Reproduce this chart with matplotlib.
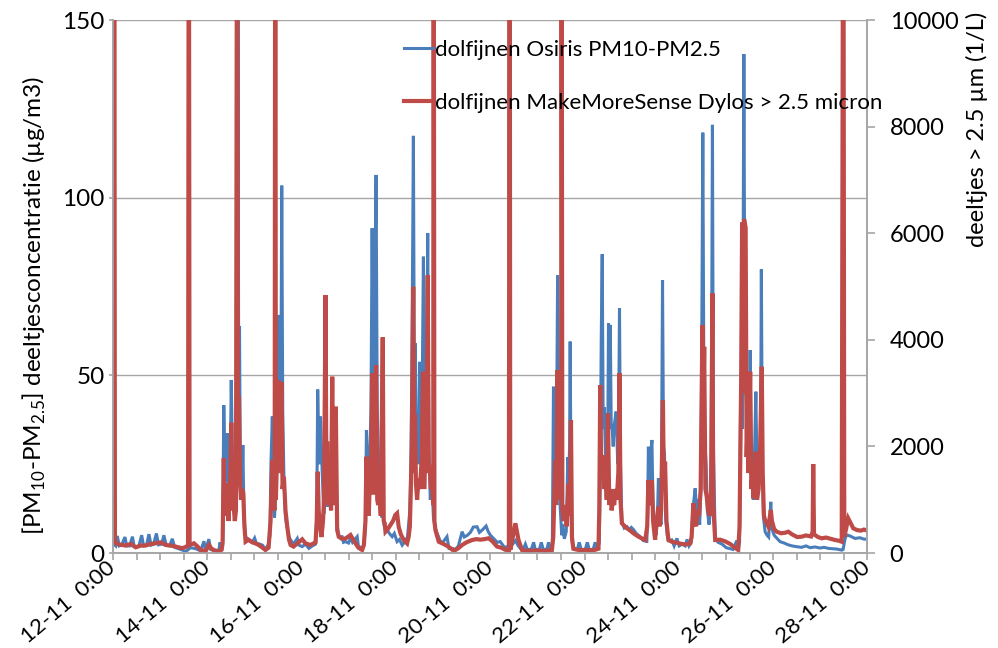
import matplotlib
matplotlib.use("Agg")
import matplotlib.pyplot as plt
from matplotlib.ticker import MultipleLocator

plt.rcParams['font.family'] = ['Lato', 'DejaVu Sans']

# time in hours after 12-11 0:00
osiris_hours = [
    0.4, 1.4, 2.2, 3.2, 4.4, 6.1, 7.0, 8.5, 9.9, 10.8, 13.1, 14.6, 15.6, 17.1, 18.3, 19.4,
    20.7, 22.1, 23.2, 24.8, 25.9, 27.1, 28.8, 30.2, 31.4, 33.4, 35.4, 37.0, 39.5, 42.1,
    44.6, 46.3, 47.1, 48.8, 49.7, 51.7, 53.9, 54.5, 55.3, 55.8, 56.4, 57.1, 57.6, 58.2,
    58.8, 59.6, 60.2, 60.9, 61.4, 62.0, 62.6, 63.3, 63.6, 64.0, 64.4, 64.9, 65.7, 66.1,
    66.7, 67.5, 69.0, 70.9, 72.1, 73.1, 74.2, 76.1, 77.6, 79.2, 79.9, 80.4, 81.1, 81.7,
    82.2, 82.7, 83.5, 84.4, 85.0, 85.5, 85.9, 86.4, 87.0, 87.8, 88.7, 89.6, 90.4, 91.9,
    93.8, 94.7, 96.3, 98.0, 99.7, 101.5, 103.1, 103.7, 104.2, 104.9, 105.6, 106.5, 107.3,
    107.9, 108.2, 108.8, 109.4, 110.2, 111.0, 111.6, 112.1, 112.7, 113.4, 114.1, 114.9,
    116.6, 117.3, 118.3, 119.9, 120.9, 121.9, 124.3, 124.9, 126.8, 127.7, 128.5, 129.0,
    129.6, 130.2, 130.8, 131.3, 131.9, 132.5, 133.1, 133.9, 134.5, 135.0, 135.5, 136.1,
    136.9, 137.3, 137.9, 138.7, 139.5, 140.7, 142.1, 143.2, 144.6, 145.8, 147.2, 148.3,
    149.9, 151.1, 151.6, 152.1, 152.9, 153.4, 153.9, 154.4, 154.8, 155.5, 156.1, 156.7,
    157.2, 158.0, 158.6, 159.3, 160.2, 160.8, 161.5, 162.3, 163.1, 164.1, 165.0, 166.6,
    167.9, 170.0, 171.0, 172.6, 174.3, 175.8, 177.7, 178.8, 180.4, 181.9, 183.4, 185.3,
    186.5, 188.0, 189.9, 191.0, 192.1, 193.7, 195.6, 197.1, 198.7, 199.7, 201.2, 202.7,
    204.8, 206.3, 207.8, 208.8, 209.9, 210.9, 212.9, 214.1, 214.9, 217.0, 218.0, 219.0,
    220.8, 221.7, 222.6, 223.6, 224.2, 224.8, 225.1, 225.6, 226.3, 226.9, 227.4, 227.9,
    228.4, 228.9, 229.7, 230.7, 231.5, 231.9, 232.4, 232.7, 233.2, 233.7, 234.8, 236.3,
    237.3, 238.3, 240.4, 241.4, 242.4, 244.4, 245.4, 246.5, 247.5, 248.0, 248.5, 249.0,
    249.5, 250.0, 250.8, 251.3, 251.8, 252.2, 252.7, 253.1, 253.6, 253.9, 254.6, 255.1,
    256.1, 256.9, 257.4, 257.8, 258.3, 259.0, 260.2, 261.6, 262.7, 263.8, 264.9, 266.3,
    268.3, 269.9, 271.7, 272.1, 272.5, 273.2, 273.7, 274.3, 274.8, 275.5, 276.5, 277.2,
    277.6, 278.2, 279.0, 279.7, 280.2, 280.7, 281.3, 282.1, 282.7, 284.4, 285.6, 287.0,
    288.2, 289.7, 291.2, 292.2, 293.2, 294.3, 295.0, 295.5, 296.3, 297.1, 297.8, 298.6,
    299.3, 300.2, 300.8, 301.4, 301.9, 302.5, 303.4, 304.4, 305.1, 305.6, 306.5, 308.0,
    310.0, 312.1, 314.1, 315.6, 317.5, 318.2, 318.9, 319.4, 319.9, 320.4, 321.1, 321.6,
    322.2, 322.7, 323.4, 323.9, 324.3, 324.8, 325.5, 325.9, 326.6, 327.2, 327.7, 328.5,
    329.1, 329.6, 330.0, 330.5, 331.1, 331.9, 332.9, 333.7, 334.4, 334.8, 335.3, 336.5,
    337.8, 339.5, 341.6, 343.7, 345.6, 347.7, 350.5, 352.7, 354.8, 357.3, 359.9, 361.9,
    364.1, 366.5, 368.5, 370.9, 371.6, 372.6, 373.4, 375.1, 377.7, 380.2, 382.2, 384.0,
]
osiris_pm = [
    2.5, 2.0, 4.8, 2.0, 2.2, 4.5, 2.0, 2.0, 4.6, 1.8, 1.8, 5.0, 2.0, 2.2, 5.3, 2.2,
    2.5, 5.5, 2.3, 2.5, 5.0, 2.2, 2.0, 4.0, 1.6, 1.2, 0.8, 0.4, 1.5, 1.2,
    0.6, 3.3, 0.8, 3.9, 1.0, 0.6, 0.8, 3.0, 1.0, 2.0, 41.6, 20, 30, 33.7,
    12, 20, 48.7, 22, 18, 25.7, 15, 30, 160, 40, 63.9, 15, 18, 30.4,
    10, 4.6, 3.5, 3.0, 4.2, 2.5, 2.6, 2.2, 1.0, 2.5, 5, 25, 38.4, 20,
    10, 15, 30, 67, 35, 50, 103.4, 40, 21.5, 10, 7, 4.5, 3.7, 2.5,
    4.1, 2.2, 1.8, 2.5, 1.3, 2.0, 2.5, 10, 46, 25, 38.4, 22.4, 11,
    15, 36, 20, 13, 18, 25, 49, 20, 14, 34, 8, 4.6,
    4.6, 3.0, 3.2, 2.8, 4.2, 3.0, 4.6, 2.0, 1.2, 2.5, 8, 34.6,
    22, 21.5, 30, 40, 91.4, 45, 60, 106.4, 40, 29.5, 20, 15,
    10, 12, 8, 6.5, 6.5, 5.5, 4.6, 5.5, 3.2, 3.8, 2.2, 3.0,
    4.5, 12, 25, 50, 117.4, 45, 59, 30, 35.5, 25, 53.8, 25,
    35, 83.4, 30, 25, 90, 30, 15, 20, 10, 7, 5.5, 3.3,
    3.0, 4.6, 1.3, 1.3, 1.0, 2.0, 6.0, 4.5, 5.0, 5.8, 7.3, 7.4,
    5.8, 6.5, 7.6, 6.0, 5.0, 4.1, 3.0, 3.2, 2.0, 1.5, 2.0, 2.0,
    3.5, 2.0, 1.0, 1.0, 2.5, 1.0, 1.0, 3.0, 1.0, 1.0, 3.0, 1.0,
    1.0, 3.0, 1.0, 2.0, 46.8, 20, 30, 20, 78.1, 25, 15, 10,
    5, 8, 4, 6, 27, 20, 30, 59.5, 10, 3, 1.0, 1.0,
    3.0, 1.0, 1.0, 3.0, 1.0, 1.0, 3.0, 1.2, 3.0, 20, 60, 84.1,
    35, 41, 25, 35, 30, 64.6, 40, 64.2, 35, 36, 30, 36,
    39.8, 25, 40, 68.9, 25, 9, 7, 7.4, 6.5, 7.2, 6.6, 5.5,
    4.6, 3.5, 3.3, 10, 29.9, 20, 28, 31.8, 15, 8, 5, 12,
    21, 10, 8, 76.8, 30, 28, 10, 5, 3.5, 3.7, 2.0, 4.1,
    2.0, 2.5, 2.0, 3.8, 2.0, 3.0, 10, 14, 18.2, 12, 15, 8,
    20, 118.3, 40, 30, 24.8, 12, 8, 15, 120.5, 30, 4, 3.0,
    2.5, 1.5, 1.2, 1.0, 3.5, 1.0, 3.0, 40, 50, 35, 140.4, 60,
    45, 40, 39.8, 30, 57.1, 25, 20, 15, 30, 45.4, 25, 29,
    20, 30, 79.8, 25, 10, 6, 5, 4.5, 10, 14.4, 7, 5,
    4.2, 3.2, 2.8, 2.3, 2.0, 1.8, 1.6, 2.0, 1.5, 1.7, 1.4, 1.6,
    1.3, 1.2, 1.1, 0.8, 1.0, 4.0, 5.1, 4.8, 4.1, 4.3, 3.9, 3.9,
]

dylos_hours = [
    0.4, 0.6, 1.0, 2.9, 6.5, 9.0, 11.6, 14.1, 16.6, 19.2, 21.7, 24.3, 26.8, 29.4, 31.9,
    35.3, 37.5, 38.2, 38.6, 39.0, 41.2, 43.1, 44.6, 47.1, 48.8, 50.2, 51.7, 53.9, 55.3,
    55.8, 56.4, 56.9, 57.6, 58.2, 58.8, 59.6, 60.2, 60.9, 61.4, 62.0, 62.6, 63.2, 63.6,
    64.1, 64.7, 65.2, 65.7, 66.3, 66.9, 67.5, 69.0, 70.9, 72.6, 74.2, 76.1, 77.6, 79.2,
    80.2, 81.1, 81.7, 82.3, 82.6, 82.9, 83.5, 84.3, 84.8, 85.3, 85.8, 86.3, 87.0, 87.8,
    88.7, 89.6, 90.4, 91.9, 93.8, 96.3, 98.0, 100.5, 103.1, 103.7, 104.2, 104.7, 105.4,
    106.1, 106.9, 107.4, 108.2, 108.6, 109.0, 109.6, 110.2, 111.0, 111.6, 112.1, 112.7,
    113.4, 114.1, 114.9, 116.3, 118.3, 120.9, 123.4, 124.9, 126.8, 127.7, 128.5, 129.0,
    129.5, 130.2, 130.8, 131.3, 131.9, 132.5, 133.1, 133.9, 134.5, 135.0, 135.6, 136.3,
    137.3, 137.8, 138.3, 138.7, 139.9, 141.2, 142.5, 143.7, 144.6, 145.4, 146.5, 148.0,
    149.7, 150.5, 151.1, 151.6, 152.1, 152.8, 153.3, 153.7, 154.2, 154.8, 155.5, 156.1,
    156.7, 157.2, 157.8, 158.4, 159.0, 159.5, 160.2, 160.7, 161.2, 161.8, 162.3, 163.0,
    163.2, 163.6, 164.1, 165.8, 168.2, 170.8, 172.7, 174.3, 175.8, 177.7, 179.9, 182.8,
    184.9, 187.0, 189.0, 191.2, 193.1, 195.5, 197.6, 199.7, 201.5, 201.9, 202.2, 203.5,
    204.8, 206.4, 208.2, 211.4, 214.9, 220.0, 223.4, 224.1, 225.1, 225.6, 226.3, 226.9,
    227.4, 228.1, 228.3, 228.7, 229.4, 230.2, 230.9, 231.9, 232.5, 233.1, 233.6, 234.3,
    235.3, 237.8, 240.4, 242.9, 245.4, 247.1, 247.5, 248.0, 248.5, 249.4, 250.0, 250.7,
    251.3, 251.9, 252.6, 253.2, 253.8, 254.5, 255.1, 255.8, 256.4, 257.2, 257.8, 258.3,
    259.0, 261.6, 263.3, 264.9, 267.5, 269.4, 270.9, 271.9, 272.5, 273.2, 273.7, 274.3,
    274.9, 275.9, 276.7, 277.6, 278.2, 279.0, 279.9, 280.4, 281.0, 281.7, 282.7, 284.4,
    286.1, 287.8, 289.7, 291.7, 293.8, 294.5, 295.4, 296.0, 296.8, 297.6, 298.3, 299.1,
    300.0, 300.4, 300.9, 301.5, 302.2, 302.9, 303.7, 304.4, 305.1, 305.5, 306.5, 309.0,
    311.5, 314.1, 316.6, 318.2, 318.9, 319.7, 320.2, 320.7, 321.2, 322.0, 322.5, 323.0,
    323.5, 324.3, 324.9, 325.5, 325.9, 326.5, 327.2, 327.8, 328.6, 329.3, 330.2, 330.7,
    331.3, 331.9, 333.6, 334.8, 335.4, 336.5, 337.8, 340.0, 342.1, 343.7, 345.6, 348.2,
    350.5, 352.7, 355.3, 356.1, 356.4, 356.8, 358.8, 360.7, 362.9, 364.9, 367.5, 369.5,
    370.9, 371.7, 372.2, 373.1, 374.2, 375.6, 376.8, 378.7, 380.7, 382.2, 384.0,
]
dylos_count = [
    250, 15000, 200, 160, 140, 170, 107, 140, 140, 170, 182, 200, 150, 140, 120,
    90, 120, 150, 15000, 150, 182, 120, 56, 30, 150, 80, 50, 30, 60,
    200, 1776, 700, 900, 1313, 600, 1200, 2444, 800, 900, 600, 800, 15000, 1500,
    2945, 1300, 1000, 1200, 1126, 500, 212, 250, 200, 180, 150, 100, 56, 100,
    600, 1745, 900, 800, 15000, 1000, 1800, 3245, 1500, 2800, 3200, 1200, 1431, 800,
    494, 250, 150, 120, 180, 257, 180, 150, 200, 600, 1525, 800, 500,
    300, 600, 1000, 4840, 1500, 2088, 900, 1300, 800, 3308, 1000, 900,
    2745, 431, 306, 270, 270, 338, 182, 100, 56, 150, 600, 1807,
    1000, 700, 1500, 1200, 3371, 1100, 1500, 3527, 1000, 900, 1200, 700,
    4047, 600, 560, 400, 450, 525, 600, 713, 745, 494, 350, 244,
    180, 306, 500, 1200, 2000, 4996, 1500, 2600, 1300, 1000, 1400, 1200,
    1500, 1800, 3400, 1200, 2058, 1500, 5210, 1500, 1651, 1200, 1400, 900,
    15000, 600, 431, 212, 170, 119, 60, 56, 90, 150, 200, 244,
    260, 250, 260, 276, 220, 120, 100, 60, 56, 15000, 60, 300,
    557, 244, 56, 40, 50, 40, 56, 300, 1745, 900, 3433, 1300,
    1000, 1100, 15000, 800, 600, 900, 500, 1300, 700, 2495, 300, 80,
    70, 50, 60, 50, 60, 80, 800, 3152, 1500, 1838, 1200, 1600,
    1000, 2620, 900, 1200, 800, 1000, 900, 1200, 1000, 1500, 3371, 1000,
    557, 463, 420, 369, 306, 270, 244, 500, 1370, 900, 1000, 1370,
    600, 250, 600, 869, 500, 800, 2870, 1200, 1713, 600, 244, 212,
    200, 182, 170, 160, 180, 300, 932, 600, 500, 800, 700, 1200,
    4277, 2500, 3870, 1200, 1056, 800, 700, 1200, 4872, 900, 244, 250,
    220, 170, 100, 56, 500, 3183, 6200, 3000, 6267, 6100, 1800, 2500,
    1500, 3401, 1200, 1500, 1026, 1300, 1900, 1000, 1200, 1870, 3495, 1500,
    700, 619, 494, 807, 600, 450, 400, 370, 380, 400, 350, 300,
    306, 330, 310, 400, 1670, 350, 300, 276, 290, 270, 244, 230,
    212, 15000, 300, 450, 651, 550, 463, 430, 420, 440, 418,
]

date_ticks = [0, 48, 96, 144, 192, 240, 288, 336, 384]
date_labels = ['12-11  0:00', '14-11  0:00', '16-11  0:00', '18-11  0:00', '20-11  0:00',
               '22-11  0:00', '24-11  0:00', '26-11  0:00', '28-11  0:00']

blue = '#4A7EBB'
red = '#BE4B48'
axis_grey = '#A6A6A6'

fig = plt.figure(figsize=(9.98, 6.48), dpi=100)
ax = fig.add_axes([0.1132, 0.1466, 0.7560, 0.8225])
ax2 = ax.twinx()

l1, = ax.plot(osiris_hours, osiris_pm, color=blue, lw=2.2, solid_joinstyle='miter')
l2, = ax2.plot(dylos_hours, dylos_count, color=red, lw=3.0, solid_joinstyle='miter')

ax.set_xlim(0, 384)
ax.set_ylim(0, 150)
ax2.set_ylim(0, 10000)
ax.set_yticks([0, 50, 100, 150])
ax2.set_yticks([0, 2000, 4000, 6000, 8000, 10000])
ax.set_xticks(date_ticks)
ax.set_xticklabels(date_labels, rotation=40, ha='right', va='center', rotation_mode='anchor')
ax.xaxis.set_minor_locator(MultipleLocator(12))

ax.yaxis.grid(True, color=axis_grey, lw=1)
ax.set_axisbelow(True)

for a in (ax, ax2):
    a.spines['top'].set_visible(False)
    for s in ('left', 'right', 'bottom'):
        a.spines[s].set_color(axis_grey)
        a.spines[s].set_linewidth(1.2)
    a.tick_params(which='both', color=axis_grey, width=1.2, labelsize=17.5)
ax.tick_params(axis='x', which='both', length=5, pad=4, labelsize=16)
ax.tick_params(axis='y', length=3, pad=3)
ax2.tick_params(axis='y', length=6, pad=10, labelsize=17)

ax.set_ylabel(r'[PM$_{\mathregular{10}}$-PM$_{\mathregular{2.5}}$] deeltjesconcentratie (µg/m3)',
              fontsize=17.5)
ax.yaxis.set_label_coords(-0.086, 0.465)
ax2.set_ylabel('deeltjes > 2.5 µm (1/L)', fontsize=17)
ax2.yaxis.set_label_coords(1.13, 0.794)

ax2.legend([l1, l2], ['dolfijnen Osiris PM10-PM2.5', 'dolfijnen MakeMoreSense Dylos > 2.5 micron'],
           loc='upper left', bbox_to_anchor=(0.4045, 0.938), bbox_transform=fig.transFigure,
           frameon=False, fontsize=16, handlelength=1.3, handletextpad=0.1,
           labelspacing=1.47, borderpad=0, borderaxespad=0)

fig.savefig('out.png', dpi=100)
